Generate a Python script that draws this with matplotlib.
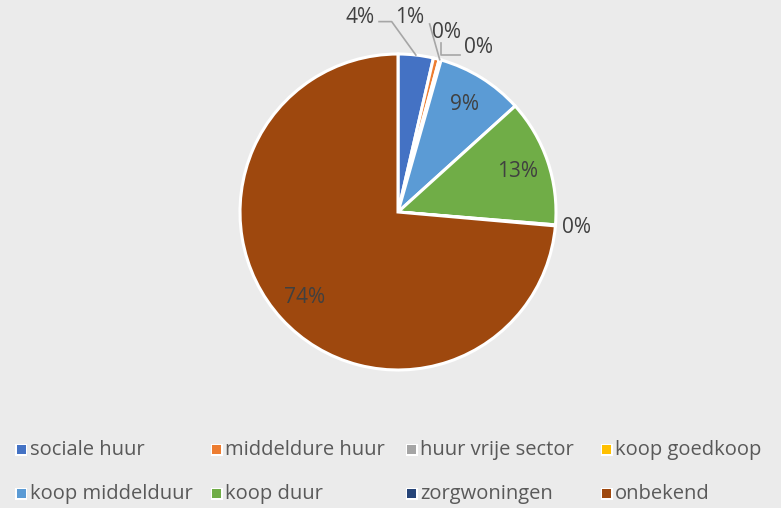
import numpy as np
import matplotlib.pyplot as plt
from matplotlib.patches import Rectangle

categorieen = ["sociale huur", "middeldure huur", "huur vrije sector", "koop goedkoop",
               "koop middelduur", "koop duur", "zorgwoningen", "onbekend"]
percentages = [3.6, 0.6, 0.1, 0.1, 8.9, 13.0, 0.1, 73.6]
kleuren = ["#4472C4", "#ED7D31", "#A5A5A5", "#FFC000",
           "#5B9BD5", "#70AD47", "#264478", "#9E480E"]

achtergrond = "#EBEBEB"
tekstkleur = "#404040"
plt.rcParams["font.family"] = ["Open Sans", "DejaVu Sans"]

fig = plt.figure(figsize=(7.81, 5.08), dpi=100, facecolor=achtergrond)
# pie: middelpunt (398, 212) px, straal 158 px
ax = fig.add_axes([(398 - 158) / 781, (508 - 370) / 508, 316 / 781, 316 / 508])
ax.set_facecolor(achtergrond)

wedges, _ = ax.pie(percentages, colors=kleuren, startangle=90, counterclock=False,
                   radius=1.0, wedgeprops=dict(edgecolor="white", linewidth=2.2))
ax.set_xlim(-1, 1)
ax.set_ylim(-1, 1)
ax.set_aspect("equal")
ax.axis("off")


def midden(w):
    hoek = np.deg2rad((w.theta1 + w.theta2) / 2)
    return np.cos(hoek), np.sin(hoek)


labels = ["%.0f%%" % p for p in percentages]

# labels binnen de taart
for i in [4, 5, 7]:
    x, y = midden(wedges[i])
    ax.text(0.8 * x, 0.8 * y, labels[i], ha="center", va="center",
            fontsize=15, color=tekstkleur)

# labels buiten de taart, met lijntjes
buiten = {0: (-0.24, 1.23), 1: (0.075, 1.23), 2: (0.31, 1.135), 3: (0.51, 1.04), 6: (1.13, -0.10)}
for i, (tx, ty) in buiten.items():
    ax.text(tx, ty, labels[i], ha="center", va="center", fontsize=15,
            color=tekstkleur, clip_on=False)

lijnkleur = "#A6A6A6"
x0, y0 = midden(wedges[0])
ax.plot([-0.12, -0.04, x0], [1.205, 1.205, y0], color=lijnkleur, lw=1.2, clip_on=False)
x1, y1 = midden(wedges[2])
ax.plot([0.20, x1], [1.19, y1], color=lijnkleur, lw=1.2, clip_on=False)
ax.plot([0.39, 0.275, 0.275], [0.995, 0.995, 1.07], color=lijnkleur, lw=1.2, clip_on=False)

# legenda
for i, (naam, kleur) in enumerate(zip(categorieen, kleuren)):
    rij, kol = divmod(i, 4)
    px = 17 + kol * 195
    py = 450 + rij * 44
    fig.patches.append(Rectangle(((px - 1.5) / 781, 1 - (py + 5.5) / 508), 12 / 781, 12 / 508,
                                 transform=fig.transFigure, facecolor="white",
                                 edgecolor="none"))
    fig.patches.append(Rectangle((px / 781, 1 - (py + 4) / 508), 9 / 781, 9 / 508,
                                 transform=fig.transFigure, facecolor=kleur,
                                 edgecolor="none"))
    fig.text((px + 13) / 781, 1 - py / 508, naam, ha="left", va="center",
             fontsize=14.5, color="#595959")

fig.savefig("out.png", dpi=100, facecolor=achtergrond)
